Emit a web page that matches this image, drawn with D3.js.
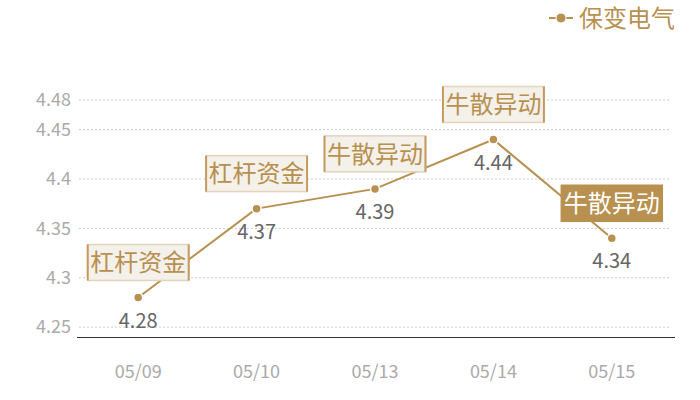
<!DOCTYPE html>
<html><head><meta charset="utf-8">
<script src="https://cdn.jsdelivr.net/npm/d3@7/dist/d3.min.js"></script>
<style>body{margin:0;background:#fff}svg{display:block}text{font-family:"Noto Sans CJK SC","Noto Sans",sans-serif}</style>
</head><body><svg id="c" width="700" height="400"></svg>
<script>
const categories = ["05/09","05/10","05/13","05/14","05/15"];
const values = [4.28, 4.37, 4.39, 4.44, 4.34];
const notes = ["杠杆资金","杠杆资金","牛散异动","牛散异动","牛散异动"];
const highlight = [false,false,false,false,true];
const yTicks = [4.25, 4.3, 4.35, 4.4, 4.45, 4.48];
const seriesName = "保变电气";

const gold = "#b8904f";
const svg = d3.select("#c");
const mLeft = 79, mRight = 671, mTop = 100, mBottom = 337;
const x = d3.scaleBand().domain(categories).range([mLeft, mRight]);
const y = d3.scaleLinear().domain([4.24, 4.48]).range([mBottom, mTop]);
const cx = d => x(d) + x.bandwidth()/2;

// grid
svg.append("g").selectAll("line").data(yTicks).join("line")
  .attr("x1", mLeft).attr("x2", mRight).attr("y1", d=>y(d)).attr("y2", d=>y(d))
  .attr("stroke", "#ccc").attr("stroke-dasharray", "2,2").attr("stroke-width", 1);
// y labels
svg.append("g").selectAll("text").data(yTicks).join("text")
  .attr("x", 71).attr("y", d=>y(d)).attr("dy", "0.35em").attr("text-anchor","end")
  .attr("fill","#aaa").attr("font-size",18).text(d=>d);
// x axis line
svg.append("line").attr("x1", 77).attr("x2", 675).attr("y1", mBottom+0.5).attr("y2", mBottom+0.5)
  .attr("stroke","#333").attr("stroke-width",1.2);
svg.append("g").selectAll("text").data(categories).join("text")
  .attr("x", d=>cx(d)).attr("y", 372).attr("dy","0.35em").attr("text-anchor","middle")
  .attr("fill","#aaa").attr("font-size",18).text(d=>d);

// line
const line = d3.line().x((d,i)=>cx(categories[i])).y(d=>y(d));
svg.append("path").datum(values).attr("d", line).attr("fill","none").attr("stroke",gold).attr("stroke-width",2);

// annotation boxes
const bw = 101, bh = 36, gap = 17;
const ann = svg.append("g").selectAll("g").data(values).join("g")
  .attr("transform",(d,i)=>`translate(${cx(categories[i])},${y(d)-gap-bh/2})`);
ann.append("rect").attr("x",-bw/2).attr("y",-bh/2).attr("width",bw).attr("height",bh)
  .attr("fill",(d,i)=>highlight[i]?gold:"#f4f0ea")
  .attr("stroke",(d,i)=>highlight[i]?gold:"#e3d3bc").attr("stroke-width",1.5);
ann.filter((d,i)=>!highlight[i]).each(function(){
  const g = d3.select(this);
  [-bw/2, bw/2].forEach(px=>g.append("line").attr("x1",px).attr("x2",px).attr("y1",-bh/2).attr("y2",bh/2)
    .attr("stroke","#c49a5e").attr("stroke-width",2));
});
ann.append("text").attr("text-anchor","middle").attr("dy","0.36em").attr("font-size",24)
  .attr("fill",(d,i)=>highlight[i]?"#fff":gold).text((d,i)=>notes[i]);

// points
svg.append("g").selectAll("circle").data(values).join("circle")
  .attr("cx",(d,i)=>cx(categories[i])).attr("cy",d=>y(d)).attr("r",4.5)
  .attr("fill",gold).attr("stroke","#fff").attr("stroke-width",1.5);
// value labels
svg.append("g").selectAll("text").data(values).join("text")
  .attr("x",(d,i)=>cx(categories[i])).attr("y",d=>y(d)+23).attr("dy","0.35em")
  .attr("text-anchor","middle").attr("fill","#666").attr("font-size",20).text(d=>d.toFixed(2));

// legend
const lg = svg.append("g").attr("transform","translate(561,18)");
lg.append("line").attr("x1",-12).attr("x2",12).attr("stroke",gold).attr("stroke-width",2);
lg.append("circle").attr("r",5).attr("fill",gold).attr("stroke","#fff").attr("stroke-width",1);
lg.append("text").attr("x",18).attr("dy","0.36em").attr("font-size",24).attr("fill",gold).text(seriesName);
</script></body></html>
